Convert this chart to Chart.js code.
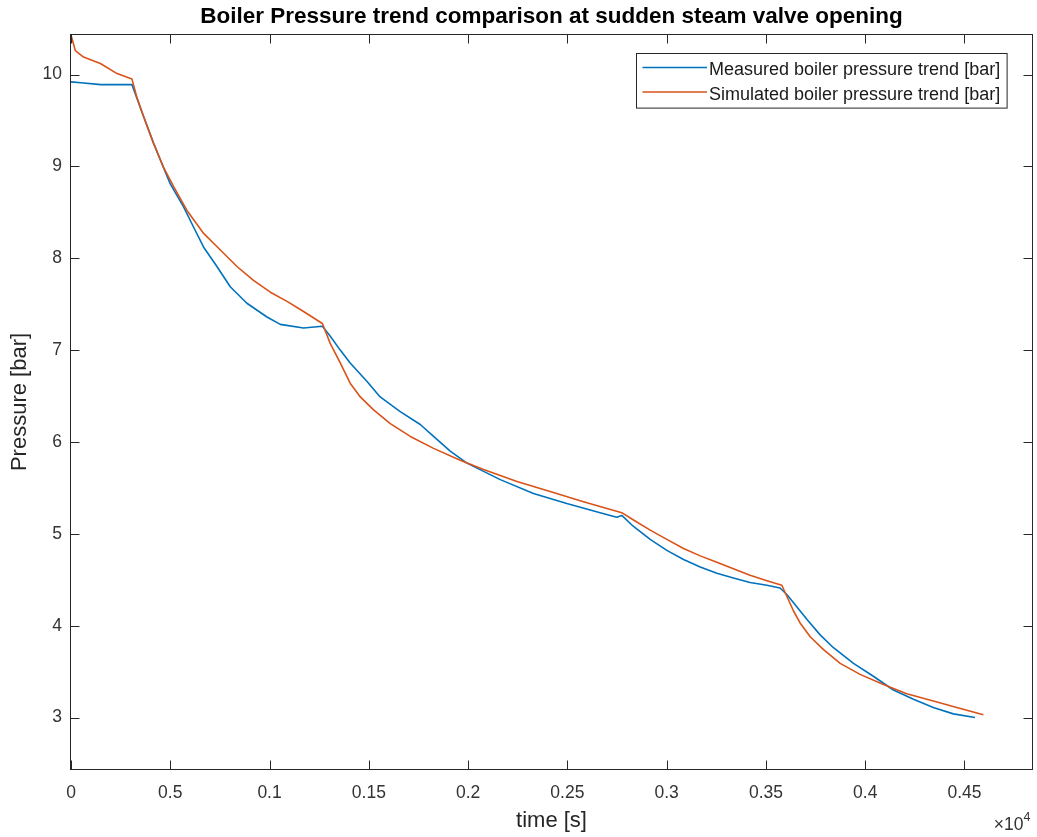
<!DOCTYPE html>
<html>
<head>
<meta charset="utf-8">
<script src="https://cdn.jsdelivr.net/npm/chart.js@4/dist/chart.umd.min.js"></script>
<style>
  body { margin: 0; background: #fff; }
  canvas { display: block; }
</style>
</head>
<body>
<canvas id="chart" width="1037" height="837"></canvas>
<script>
// time axis is in units of 10^4 s (as on the original plot)
const measuredTime = [0, 0.005, 0.015, 0.0307,
  0.0366, 0.0416, 0.045, 0.05, 0.0567, 0.0617, 0.0668, 0.0735, 0.0802, 0.0886, 0.0987, 0.1054, 0.1171, 0.1266,
  0.1306, 0.1356, 0.1406, 0.149, 0.1557, 0.1658, 0.1759, 0.1826, 0.191, 0.1994, 0.2078, 0.2162, 0.2329, 0.2497,
  0.2665, 0.2749, 0.2774,
  0.2833, 0.2917, 0.3001, 0.3085, 0.3169, 0.3253, 0.3336, 0.342, 0.3505, 0.3571,
  0.3605, 0.3639, 0.3706, 0.3773, 0.384, 0.3941, 0.4041, 0.4142, 0.4243, 0.4343, 0.4444, 0.4553];
const measuredPressure = [9.92, 9.91, 9.89, 9.89,
  9.54, 9.25, 9.07, 8.81, 8.56, 8.34, 8.12, 7.91, 7.69, 7.51, 7.36, 7.28, 7.24, 7.26,
  7.15, 7.00, 6.86, 6.66, 6.49, 6.33, 6.19, 6.06, 5.90, 5.77, 5.68, 5.59, 5.44, 5.33,
  5.23, 5.18, 5.20,
  5.08, 4.94, 4.82, 4.72, 4.64, 4.57, 4.52, 4.47, 4.44, 4.41,
  4.34, 4.25, 4.07, 3.90, 3.76, 3.59, 3.45, 3.30, 3.20, 3.11, 3.04, 3.00];

const simTime = [0, 0.0022, 0.0063, 0.0148, 0.0232, 0.0307,
  0.0332, 0.0366, 0.0416, 0.0466, 0.0517, 0.0584, 0.0668, 0.0752, 0.0836, 0.0919, 0.1004, 0.1088, 0.1171, 0.1266,
  0.1306, 0.1356, 0.1406, 0.1457, 0.1524, 0.1608, 0.1709, 0.1826, 0.196, 0.2078, 0.2246, 0.2413, 0.2581, 0.2774,
  0.2833, 0.2917, 0.3001, 0.3085, 0.3169, 0.3253, 0.3336, 0.342, 0.3505, 0.358,
  0.3605, 0.3639, 0.3672, 0.3723, 0.379, 0.3874, 0.3974, 0.4092, 0.4209, 0.4343, 0.4461, 0.4595];
const simPressure = [10.43, 10.26, 10.19, 10.12, 10.01, 9.95,
  9.75, 9.54, 9.25, 8.99, 8.78, 8.52, 8.27, 8.09, 7.91, 7.76, 7.63, 7.53, 7.42, 7.29,
  7.07, 6.86, 6.64, 6.49, 6.35, 6.20, 6.06, 5.93, 5.80, 5.70, 5.57, 5.46, 5.35, 5.23,
  5.15, 5.04, 4.94, 4.84, 4.76, 4.69, 4.62, 4.55, 4.49, 4.44,
  4.32, 4.16, 4.03, 3.88, 3.74, 3.59, 3.47, 3.36, 3.26, 3.18, 3.11, 3.03];

const xTickVals = [0, 0.05, 0.1, 0.15, 0.2, 0.25, 0.3, 0.35, 0.4, 0.45];
const xTickLabels = ['0', '0.5', '0.1', '0.15', '0.2', '0.25', '0.3', '0.35', '0.4', '0.45'];
const yTickVals = [3, 4, 5, 6, 7, 8, 9, 10];

const seriesNames = ['Measured boiler pressure trend [bar]', 'Simulated boiler pressure trend [bar]'];
const seriesColors = ['#0072BD', '#D95319'];

const FONT = '"Liberation Sans", Arial, Helvetica, sans-serif';

/* box, inward ticks, legend, title and exponent, drawn the matlab way */
const matlabFrame = {
  id: 'matlabFrame',
  afterDatasetsDraw(chart) {
    const {ctx, chartArea: a, scales: {x, y}} = chart;
    ctx.save();
    ctx.strokeStyle = '#262626';
    ctx.lineWidth = 1;
    const L = Math.floor(a.left) - 0.5, R = Math.floor(a.right) + 0.5;
    const T = Math.floor(a.top) - 0.5, B = Math.floor(a.bottom) + 0.5;
    ctx.strokeRect(L, T, R - L, B - T);
    ctx.beginPath();
    xTickVals.forEach(v => {
      const px = Math.round(x.getPixelForValue(v)) + 0.5;
      ctx.moveTo(px, B); ctx.lineTo(px, B - 9);
      ctx.moveTo(px, T); ctx.lineTo(px, T + 9);
    });
    yTickVals.forEach(v => {
      const py = Math.round(y.getPixelForValue(v)) + 0.5;
      ctx.moveTo(L, py); ctx.lineTo(L + 9, py);
      ctx.moveTo(R, py); ctx.lineTo(R - 9, py);
    });
    ctx.stroke();

    // legend box in the top right corner
    const lw = 370.6, lh = 54.6;
    const lx = Math.round(a.right - 25 - lw) + 0.5, ly = Math.round(a.top + 18) + 0.5;
    ctx.fillStyle = '#fff';
    ctx.fillRect(lx, ly, lw, lh);
    ctx.strokeStyle = '#262626';
    ctx.strokeRect(lx, ly, lw, lh);
    ctx.font = '18px ' + FONT;
    ctx.textBaseline = 'middle';
    ctx.textAlign = 'left';
    seriesNames.forEach((name, i) => {
      const ry = ly + 14 + i * 24.5;
      ctx.strokeStyle = seriesColors[i];
      ctx.lineWidth = 1.5;
      ctx.beginPath();
      ctx.moveTo(lx + 6, ry); ctx.lineTo(lx + 70.5, ry);
      ctx.stroke();
      ctx.fillStyle = '#1a1a1a';
      ctx.fillText(name, lx + 72.5, ry + 3);
    });
    ctx.restore();
  },
  afterDraw(chart) {
    const {ctx, chartArea: a} = chart;
    ctx.save();
    ctx.fillStyle = '#000';
    ctx.font = 'bold 22.5px ' + FONT;
    ctx.textAlign = 'center';
    ctx.textBaseline = 'middle';
    ctx.fillText('Boiler Pressure trend comparison at sudden steam valve opening', (a.left + a.right) / 2, 17);

    // x10^4 multiplier under the right end of the axis
    ctx.fillStyle = '#333';
    ctx.textBaseline = 'alphabetic';
    ctx.textAlign = 'right';
    ctx.font = '17.5px ' + FONT;
    ctx.fillText('\u00d710', 1023.5, 830);
    ctx.textAlign = 'left';
    ctx.font = '12.5px ' + FONT;
    ctx.fillText('4', 1023.5, 821);
    ctx.restore();
  }
};

const ctx = document.getElementById('chart').getContext('2d');
const myChart = new Chart(ctx, {
  type: 'line',
  data: {
    datasets: [{
      label: seriesNames[0],
      data: measuredTime.map((t, i) => ({x: t, y: measuredPressure[i]})),
      borderColor: seriesColors[0],
      borderWidth: 1.6,
      pointRadius: 0,
      fill: false,
      tension: 0,
      borderJoinStyle: 'round',
      order: 1
    }, {
      label: seriesNames[1],
      data: simTime.map((t, i) => ({x: t, y: simPressure[i]})),
      borderColor: seriesColors[1],
      borderWidth: 1.6,
      pointRadius: 0,
      fill: false,
      tension: 0,
      borderJoinStyle: 'round',
      order: 0
    }]
  },
  options: {
    responsive: false,
    animation: false,
    layout: { padding: { top: 35, right: 5, left: 0, bottom: 0 } },
    plugins: {
      legend: { display: false },
      tooltip: { enabled: false },
      title: { display: false }
    },
    scales: {
      x: {
        type: 'linear',
        min: 0,
        max: 0.484,
        afterBuildTicks: s => { s.ticks = xTickVals.map(v => ({value: v})); },
        afterFit: s => { s.height = 68; },
        grid: { display: false, drawTicks: false },
        border: { display: false },
        ticks: {
          padding: 14,
          maxRotation: 0,
          autoSkip: false,
          color: '#333',
          font: { family: FONT, size: 17.5, lineHeight: 1.2 },
          callback: (v, i) => xTickLabels[i]
        },
        title: {
          display: true,
          text: 'time [s]',
          color: '#262626',
          font: { family: FONT, size: 22, lineHeight: 1.2 },
          padding: { top: 0, bottom: 3 }
        }
      },
      y: {
        type: 'linear',
        min: 2.44,
        max: 10.43,
        afterBuildTicks: s => { s.ticks = yTickVals.map(v => ({value: v})); },
        afterFit: s => { s.width = 71; },
        grid: { display: false, drawTicks: false },
        border: { display: false },
        ticks: {
          padding: 9,
          color: '#333',
          font: { family: FONT, size: 17.5, lineHeight: 1.2 }
        },
        title: {
          display: true,
          text: 'Pressure [bar]',
          color: '#262626',
          font: { family: FONT, size: 22, lineHeight: 1.2 },
          padding: { top: 7, bottom: 0 }
        }
      }
    }
  },
  plugins: [matlabFrame]
});
</script>
</body>
</html>
